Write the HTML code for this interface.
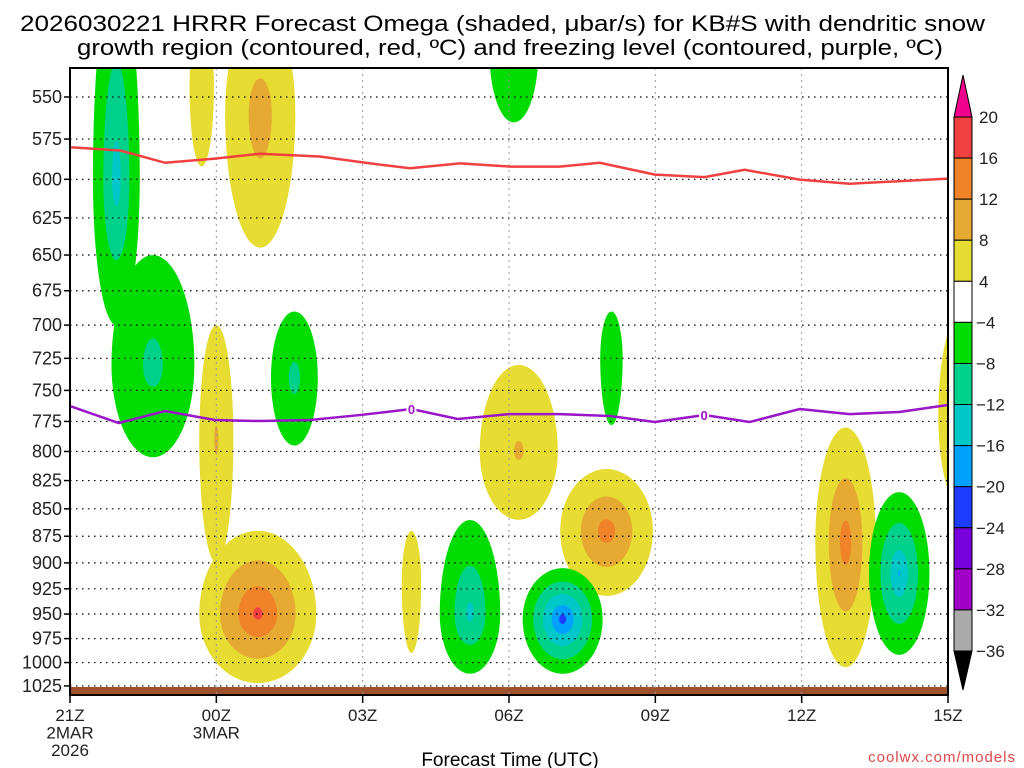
<!DOCTYPE html>
<html><head><meta charset="utf-8"><style>
html,body{margin:0;padding:0;background:#fff;}
svg{display:block;font-family:"Liberation Sans",sans-serif;}
</style></head><body>
<svg id="chart" width="1024" height="768" viewBox="0 0 1024 768" xmlns="http://www.w3.org/2000/svg">
<text x="20" y="31" font-size="22" textLength="965" lengthAdjust="spacingAndGlyphs">2026030221 HRRR Forecast Omega (shaded, μbar/s) for KB#S with dendritic snow</text>
<text x="77" y="55" font-size="22" textLength="866" lengthAdjust="spacingAndGlyphs">growth region (contoured, red, ºC) and freezing level (contoured, purple, ºC)</text>
<defs><clipPath id="pc"><rect x="70" y="68" width="878" height="627"/></clipPath></defs>
<g id="fills" clip-path="url(#pc)"></g>
<g id="grid"></g>
<g id="lines" clip-path="url(#pc)"></g>
<g id="axes"></g>
<g id="cbar"></g>
<text x="510" y="766" font-size="19" text-anchor="middle">Forecast Time (UTC)</text>
<text x="1016" y="762" font-size="15" text-anchor="end" fill="#e04848" letter-spacing="1">coolwx.com/models</text>
</svg>
<script>
// ---- data ----
const pressureTicks = [550,575,600,625,650,675,700,725,750,775,800,825,850,875,900,925,950,975,1000,1025];
const timeTicks = [0,3,6,9,12,15,18];
const timeLabels = [["21Z","2MAR","2026"],["00Z","3MAR"],["03Z"],["06Z"],["09Z"],["12Z"],["15Z"]];
const levels = [20,16,12,8,4,-4,-8,-12,-16,-20,-24,-28,-32,-36];
const levelColors = ["#f04040","#f08228","#e6aa32","#e6dc32","#ffffff","#00dc00","#00d28c","#00c8c8","#00a0ff","#1e3cff","#7800dc","#a000c8","#aaaaaa"];
// blobs: [hour, centerP, topP, bottomP, halfWidthHours, peakOmega]
const blobT   = [0.95, 1.7, 3.9, 2.7, 9.1, 4.6, 3.0, 3.85, 7.0, 8.2, 10.1, 9.2, 11.0, 11.1, 15.9, 17.0, 18.3];
const blobP   = [600, 730, 560, 545, 525, 740, 790, 950, 920, 950, 955, 800, 870, 725, 880, 910, 770];
const blobTop = [480, 650, 500, 500, 500, 690, 700, 870, 870, 860, 905, 730, 815, 690, 780, 835, 690];
const blobBot = [700, 805, 645, 592, 565, 795, 900, 1022, 990, 1012, 1012, 860, 932, 778, 1005, 992, 850];
const blobHW  = [0.48, 0.85, 0.72, 0.25, 0.5, 0.48, 0.35, 1.2, 0.2, 0.62, 0.82, 0.8, 0.95, 0.23, 0.62, 0.62, 0.5];
const blobPk  = [-15, -10, 11, 6, -6, -10, 9, 18, 6, -14, -23, 9, 15, -6, 15, -17, 6];
// dendritic growth line (red) and freezing level (purple)
const dgzT = [0,1.03,1.95,2.97,3.89,5.12,6.15,6.97,8.0,9.02,10.04,10.86,11.99,13.01,13.83,14.96,15.98,18];
const dgzP = [580,582,589.6,587,584,585.7,590,593,590,592,592,589.6,597,598.6,594,600.2,602.8,599.6];
const frzT = [0,1.0,1.95,2.97,3.89,4.92,5.94,7.0,7.95,9.02,10.04,11.07,11.99,13.01,13.93,14.96,15.98,17.0,18];
const frzP = [762.5,776.3,766.5,773.8,774.7,773.8,769.8,764.9,773.0,769,769,770.6,775.5,769.8,775.5,764.9,769,767.3,761.6];
const frzLabelT = [7.0,13.0];

// ---- axes ----
const X0=70,X1=948,Y0=68,Y1=695;
const xs = h => X0 + h*(X1-X0)/18;
const ys = p => 97 + Math.log(p/550)*946;
const NS="http://www.w3.org/2000/svg";
function mk(tag,attrs,parent){const e=document.createElementNS(NS,tag);for(const k in attrs)e.setAttribute(k,attrs[k]);parent.appendChild(e);return e;}
const fills=document.getElementById('fills'),grid=document.getElementById('grid'),lines=document.getElementById('lines'),axes=document.getElementById('axes'),cbar=document.getElementById('cbar');

function colorFor(l){
  const pos=[4,8,12,16,20],posC=["#e6dc32","#e6aa32","#f08228","#f04040","#f0008c"];
  const neg=[-4,-8,-12,-16,-20,-24,-28,-32,-36],negC=["#00dc00","#00d28c","#00c8c8","#00a0ff","#1e3cff","#7800dc","#a000c8","#aaaaaa","#000000"];
  if(l>0)return posC[pos.indexOf(l)];return negC[neg.indexOf(l)];
}
[[4,8,12,16,20],[-4,-8,-12,-16,-20,-24,-28,-32]].forEach(set=>{
  set.forEach(L=>{
    for(let i=0;i<blobT.length;i++){
      const pk=blobPk[i];
      if(Math.sign(pk)!==Math.sign(L)||Math.abs(pk)<=Math.abs(L))continue;
      const f=Math.pow((Math.abs(pk)-Math.abs(L))/(Math.abs(pk)-4),1.3);
      const cx=xs(blobT[i]),cy=ys(blobP[i]),rx=blobHW[i]*(X1-X0)/18*f;
      const ty=cy-(cy-ys(blobTop[i]))*f,by=cy+(ys(blobBot[i])-cy)*f;
      const d=`M${cx-rx},${cy} A${rx},${cy-ty} 0 0 1 ${cx+rx},${cy} A${rx},${by-cy} 0 0 1 ${cx-rx},${cy} Z`;
      const e=mk('path',{d:d,fill:colorFor(L)},fills);
      
      
    }
  });
});
const g=mk('rect',{x:X0,y:687,width:X1-X0,height:8,fill:'#a0522d'},fills);



pressureTicks.forEach(p=>{
  const y=ys(p);
  const l=mk('line',{x1:X0,x2:X1,y1:y,y2:y,stroke:'#000','stroke-dasharray':'1.5,4.5','stroke-width':1.2},grid);
  
  
  mk('line',{x1:X0-6,x2:X0,y1:y,y2:y,stroke:'#000','stroke-width':1.5},axes);
  const t=mk('text',{x:62,y:y+6,'font-size':18,'text-anchor':'end',fill:'#222'},axes);
  t.textContent=p;
  
  
});
timeTicks.forEach((h,i)=>{
  const x=xs(h);
  if(i>0&&i<timeTicks.length-1){
    const l=mk('line',{x1:x,x2:x,y1:Y0,y2:Y1,stroke:'#999','stroke-dasharray':'2,4','stroke-width':1},grid);
    
    
  }
  mk('line',{x1:x,x2:x,y1:Y1,y2:Y1+8,stroke:'#000','stroke-width':1.5},axes);
  timeLabels[i].forEach((s,j)=>{
    const t=mk('text',{x:x,y:721+j*17.5,'font-size':17,'text-anchor':'middle',fill:'#222'},axes);
    t.textContent=s;
    
    
  });
});
mk('rect',{x:X0,y:Y0,width:X1-X0,height:Y1-Y0,fill:'none',stroke:'#000','stroke-width':2},axes);

function poly(T,P,color,name){
  const pts=T.map((t,i)=>xs(t)+','+ys(P[i])).join(' ');
  const e=mk('polyline',{points:pts,fill:'none',stroke:color,'stroke-width':2.5},lines);
  
  
}
poly(dgzT,dgzP,'#f04040','dendritic-growth-line');
poly(frzT,frzP,'#9a14c8','freezing-level-line');
frzLabelT.forEach(h=>{
  let k=0;for(let i=0;i<frzT.length-1;i++)if(frzT[i]<=h&&frzT[i+1]>=h)k=i;
  const p=frzP[k]+(frzP[k+1]-frzP[k])*(h-frzT[k])/(frzT[k+1]-frzT[k]);
  mk('rect',{x:xs(h)-5,y:ys(p)-7,width:10,height:14,fill:'#fff'},lines);
  const t=mk('text',{x:xs(h),y:ys(p)+5,'font-size':13,'font-weight':'bold','text-anchor':'middle',fill:'#9a14c8'},lines);
  t.textContent='0';
  
  
});

const CX=954,CW=18,CT=117,CB=651,step=(CB-CT)/(levels.length-1);
levelColors.forEach((c,i)=>{
  const r=mk('rect',{x:CX,y:CT+i*step,width:CW,height:step,fill:c,stroke:'#000','stroke-width':1},cbar);
  
  
});
mk('polygon',{points:`${CX},${CT} ${CX+CW},${CT} ${CX+CW/2},75`,fill:'#f0008c',stroke:'#000'},cbar);
mk('polygon',{points:`${CX},${CB} ${CX+CW},${CB} ${CX+CW/2},690`,fill:'#000',stroke:'#000'},cbar);
levels.forEach((v,i)=>{
  const t=mk('text',{x:v<0?976:979,y:CT+i*step+6,'font-size':17,fill:'#222'},cbar);
  t.textContent=v<0?'\u2212'+(-v):String(v);
  
  
});
</script>
</body></html>
